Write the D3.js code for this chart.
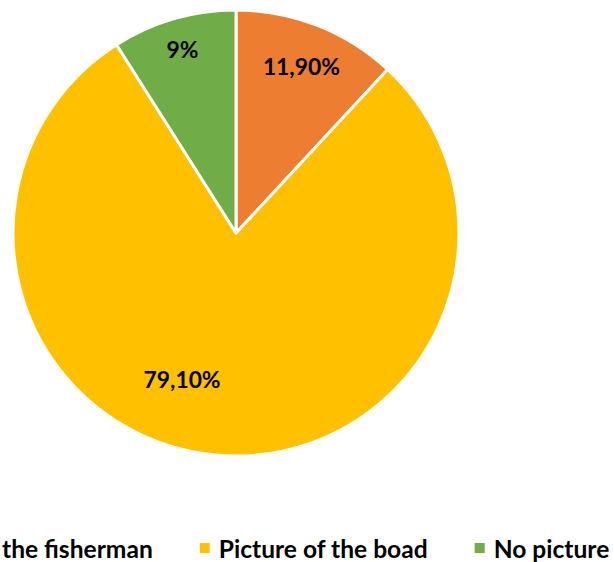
<!DOCTYPE html>
<html>
<head>
<meta charset="utf-8">
<script src="https://cdn.jsdelivr.net/npm/d3@7"></script>
<style>
  html, body { margin: 0; padding: 0; background: #fff; }
  svg { display: block; }
  text { font-family: Lato, "Open Sans", sans-serif; font-weight: bold; fill: #000; }
</style>
</head>
<body>
<svg id="chart" width="614" height="562"></svg>
<script>
// Survey answers and their shares (percent)
const categories = ["Picture of the fisherman", "Picture of the boad", "No picture"];
const values = [11.9, 79.1, 9];
const valueLabels = ["11,90%", "79,10%", "9%"];
const colors = ["#ED7D31", "#FFC000", "#70AD47"];

const W = 614, H = 562;
const cx = 236, cy = 233, R = 223;

const svg = d3.select("#chart");

const pie = d3.pie().sort(null).value(d => d)(values);
const arc = d3.arc().innerRadius(0).outerRadius(R);

const g = svg.append("g").attr("transform", `translate(${cx},${cy})`);

g.selectAll("path.slice")
  .data(pie)
  .join("path")
  .attr("class", "slice")
  .attr("d", arc)
  .attr("fill", (d, i) => colors[i])
  .attr("stroke", "#fff")
  .attr("stroke-width", 3)
  .attr("stroke-linejoin", "round");

// Fit a font size so that a sample string spans the given width
function fitSize(sample, width) {
  const t = svg.append("text").attr("font-size", 20).text(sample);
  const w = t.node().getComputedTextLength();
  t.remove();
  return 20 * width / w;
}

// Data labels: placed by a polar offset from each slice's mid angle
const labelSize = fitSize("11,90%", 77);
const labelPlacement = [
  { radius: 179, shift: 0 },
  { radius: 156, shift: 15 },
  { radius: 192, shift: 0 }
];
g.selectAll("text.value")
  .data(pie)
  .join("text")
  .attr("class", "value")
  .attr("font-size", labelSize)
  .attr("text-anchor", "middle")
  .attr("dominant-baseline", "central")
  .attr("transform", (d, i) => {
    const p = labelPlacement[i];
    const a = (d.startAngle + d.endAngle) / 2 + p.shift * Math.PI / 180;
    return `translate(${p.radius * Math.sin(a)},${-p.radius * Math.cos(a)})`;
  })
  .text((d, i) => valueLabels[i]);

// Legend row along the bottom, centred under the plot (wider than the view)
const legendSize = fitSize("Picture of the boad", 209);
const legendY = 548, box = 10, boxGap = 9, itemGap = 47, legendCenter = 240;

const widths = categories.map(c => {
  const t = svg.append("text").attr("font-size", legendSize).text(c);
  const w = t.node().getComputedTextLength();
  t.remove();
  return w;
});
const total = d3.sum(widths, w => box + boxGap + w) + itemGap * (categories.length - 1);
let x = legendCenter - total / 2;
const legend = svg.append("g").attr("class", "legend");
categories.forEach((c, i) => {
  legend.append("rect")
    .attr("x", x).attr("y", legendY - box / 2)
    .attr("width", box).attr("height", box)
    .attr("fill", colors[i]);
  legend.append("text")
    .attr("x", x + box + boxGap)
    .attr("y", legendY)
    .attr("dominant-baseline", "central")
    .attr("font-size", legendSize)
    .text(c);
  x += box + boxGap + widths[i] + itemGap;
});
</script>
</body>
</html>
